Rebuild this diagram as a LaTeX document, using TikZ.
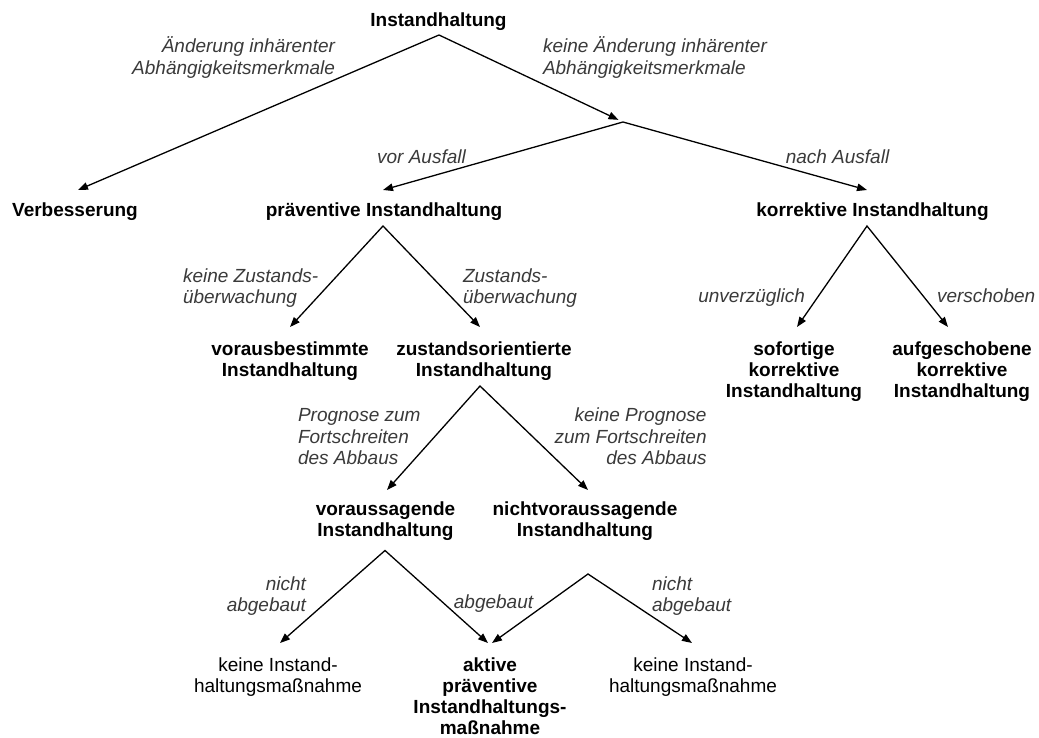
\documentclass[tikz,border=0pt]{standalone}
\usepackage{fontspec}
\setmainfont{Liberation Sans}
\usetikzlibrary{arrows.meta}
\definecolor{labgray}{HTML}{3A3A3A}
\newcommand\firstln[1]{\smash{#1}}
\begin{document}
\begin{tikzpicture}[x=1pt,y=-1pt,
  every node/.style={inner sep=0pt, outer sep=0pt},
  box/.style={anchor=north, align=center, text=black,
    font=\fontsize{19}{21.3}\selectfont\bfseries},
  plainbox/.style={anchor=north, align=center, text=black,
    font=\fontsize{19}{21.3}\selectfont},
  lab/.style={text=labgray, font=\fontsize{19}{21.5}\selectfont\itshape},
  tw/.style={{Triangle[length=10pt,width=7.5pt]}-{Triangle[length=10pt,width=7.5pt]},
    line width=1.3pt, line join=miter, draw=black}
]
\fill[white] (0,0) rectangle (1039,738);
\useasboundingbox (0,0) rectangle (1039,738);

% branch points
\coordinate (aT) at (439,35);
\coordinate (J)  at (623,122);
\coordinate (aP) at (383,226);
\coordinate (aK) at (867,226);
\coordinate (aZ) at (480,386);
\coordinate (aV) at (385,550.5);
\coordinate (aN) at (588,574);

% nodes
\node[box, anchor=base] (top) at (438.5,27) {Instandhaltung};

\node[box, outer ysep=26pt] (verb) at (75,190) {\firstln{Verbesserung}};
\node[box, outer ysep=26pt] (prae) at (384,190) {\firstln{präventive Instandhaltung}};
\node[box, outer ysep=26pt] (korr) at (872.5,190) {\firstln{korrektive Instandhaltung}};

\node[box, outer ysep=28pt] (vorb) at (290,327) {\firstln{vorausbestimmte}\\Instandhaltung};
\node[box, outer ysep=28pt] (zust) at (484,327) {\firstln{zustandsorientierte}\\Instandhaltung};
\node[box, outer ysep=28pt] (sof)  at (794,327) {\firstln{sofortige}\\korrektive\\Instandhaltung};
\node[box, outer ysep=28pt] (aufg) at (962,327) {\firstln{aufgeschobene}\\korrektive\\Instandhaltung};

\node[box, outer ysep=25pt] (vors)  at (385.5,490) {\firstln{voraussagende}\\Instandhaltung};
\node[box, outer ysep=25pt] (nvors) at (585,490) {\firstln{nichtvoraussagende}\\Instandhaltung};

\node[plainbox, outer ysep=28pt] (keineL) at (278,643) {\firstln{keine Instand-}\\haltungsmaßnahme};
\node[box, outer ysep=28pt] (akt) at (490,643) {\firstln{aktive}\\präventive\\Instandhaltungs-\\maßnahme};
\node[plainbox, outer ysep=28pt] (keineR) at (693,643) {\firstln{keine Instand-}\\haltungsmaßnahme};

% labels
\node[lab, anchor=north east, align=right] (l1) at (335,53) {\firstln{Änderung inhärenter}\\Abhängigkeitsmerkmale};
\node[lab, anchor=north west, align=left] (l2) at (543,53) {\firstln{keine Änderung inhärenter}\\Abhängigkeitsmerkmale};
\node[lab, anchor=base] (l3) at (421.5,164) {vor Ausfall};
\node[lab, anchor=base] (l4) at (837.5,164) {nach Ausfall};
\node[lab, anchor=north west, align=left] (l5) at (183,282) {\firstln{keine Zustands-}\\überwachung};
\node[lab, anchor=north west, align=left] (l6) at (463,282) {\firstln{Zustands-}\\überwachung};
\node[lab, anchor=base east] (l7) at (805,302) {unverzüglich};
\node[lab, anchor=base west] (l8) at (937,302) {verschoben};
\node[lab, anchor=north west, align=left] (l9) at (298,421.7) {\firstln{Prognose zum}\\Fortschreiten\\des Abbaus};
\node[lab, anchor=north east, align=right] (l10) at (706.6,421.7) {\firstln{keine Prognose}\\zum Fortschreiten\\des Abbaus};
\node[lab, anchor=north east, align=right] (l11) at (306,590) {\firstln{nicht}\\abgebaut};
\node[lab, anchor=base] (l12) at (493.5,608) {abgebaut};
\node[lab, anchor=north west, align=left] (l13) at (652,590) {\firstln{nicht}\\abgebaut};

% connectors
\draw[tw, shorten >=5pt] ([xshift=3pt]verb.north) -- (aT) -- (J);
\draw[tw] ([xshift=-1pt]prae.north) -- (J) -- ([xshift=-5.5pt]korr.north);
\draw[tw] (vorb.north) -- (aP) -- ([xshift=-4pt]zust.north);
\draw[tw] ([xshift=3pt]sof.north) -- (aK) -- ([xshift=-14pt]aufg.north);
\draw[tw] ([xshift=1.5pt]vors.north) -- (aZ) -- ([xshift=3pt]nvors.north);
\draw[tw] ([xshift=2pt]keineL.north) -- (aV) -- ([xshift=-2pt]akt.north);
\draw[tw] ([xshift=2pt]akt.north) -- (aN) -- ([xshift=-1pt]keineR.north);
\end{tikzpicture}
\end{document}
